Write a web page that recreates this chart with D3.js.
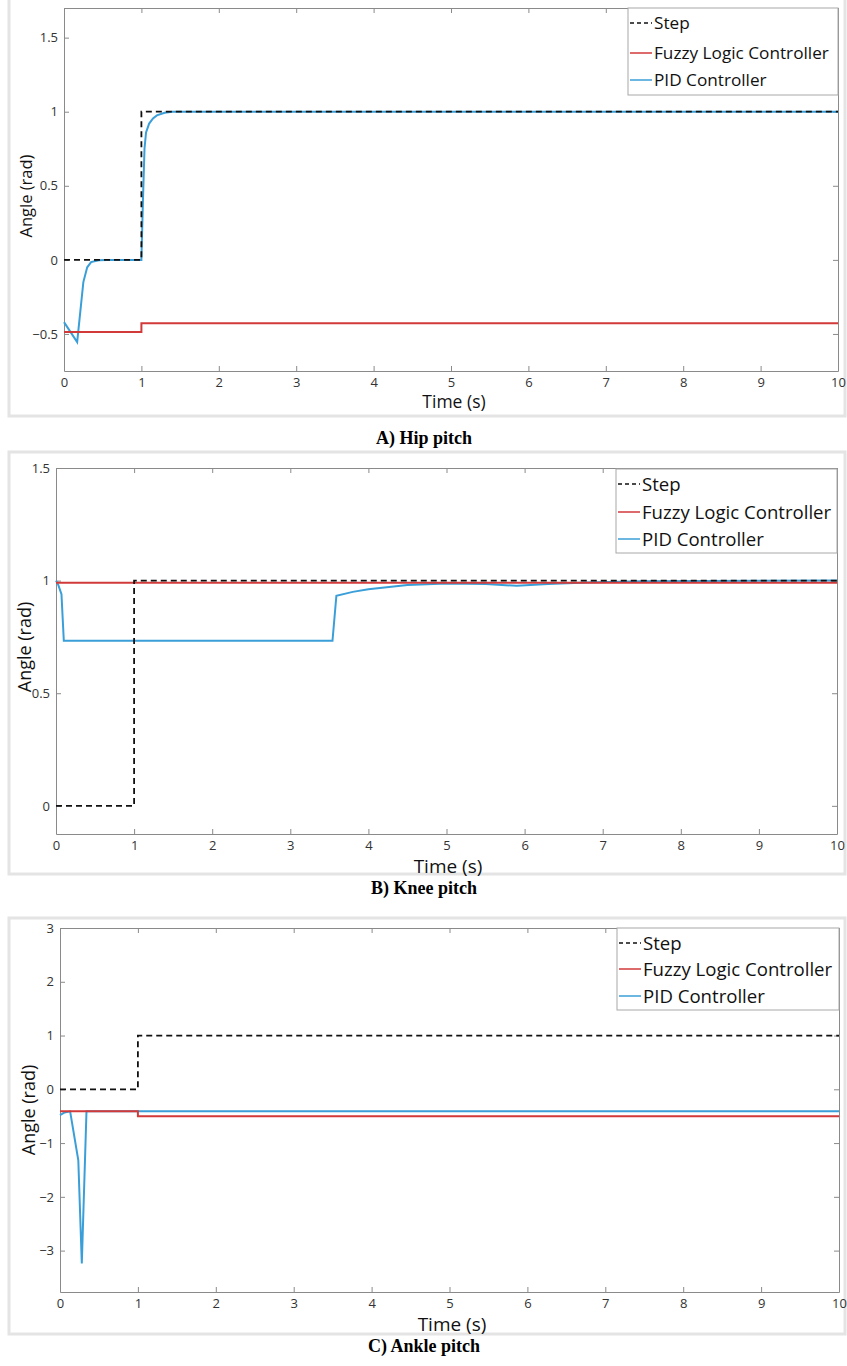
<!DOCTYPE html>
<html>
<head>
  <meta charset="UTF-8">
  <script src="https://d3js.org/d3.v7.min.js"></script>
  <title>Step response of hip, knee and ankle pitch</title>
  <style>
    body { margin: 0; background: #fff; }
    svg { display: block; }
    .tick-label { font-family: 'Open Sans', sans-serif; fill: #333; }
    .axis-title { font-family: 'Open Sans', sans-serif; fill: #111; }
    .caption { font-family: 'Liberation Serif', 'Times New Roman', serif; font-weight: bold; fill: #000; }
  </style>
</head>
<body>
<svg width="847" height="1366"></svg>
<script>
  // ---- data ----
  const timeTicks = [0, 1, 2, 3, 4, 5, 6, 7, 8, 9, 10];
  const seriesNames = ["Step", "Fuzzy Logic Controller", "PID Controller"];

  // A) hip pitch
  const hipTicks = [-0.5, 0, 0.5, 1, 1.5];
  const hipStep = [[0, 0], [1, 0], [1, 1], [10, 1]];
  const hipFuzzy = [[0, -0.487], [1, -0.487], [1, -0.428], [10, -0.428]];
  const hipPid = [[0, -0.42], [0.17, -0.555], [0.25, -0.15], [0.3, -0.05], [0.35, -0.015],
                  [0.45, -0.002], [0.55, 0], [1, 0], [1.02, 0.4], [1.04, 0.75], [1.06, 0.86],
                  [1.1, 0.92], [1.15, 0.955], [1.2, 0.975], [1.3, 0.993], [1.4, 1], [10, 1]];

  // B) knee pitch
  const kneeTicks = [0, 0.5, 1, 1.5];
  const kneeStep = [[0, 0], [1, 0], [1, 1], [10, 1]];
  const kneeFuzzy = [[0, 0.99], [10, 0.99]];
  const kneePid = [[0, 1.0], [0.03, 0.98], [0.07, 0.94], [0.1, 0.733], [3.54, 0.733],
                   [3.59, 0.933], [3.8, 0.95], [4.0, 0.962], [4.5, 0.98], [5.0, 0.987],
                   [5.5, 0.985], [5.9, 0.977], [6.3, 0.985], [6.8, 0.992], [7.5, 0.997], [10, 1.0]];

  // C) ankle pitch
  const ankleTicks = [-3, -2, -1, 0, 1, 2, 3];
  const ankleStep = [[0, 0], [1, 0], [1, 1], [10, 1]];
  const ankleFuzzy = [[0, -0.41], [1, -0.41], [1, -0.5], [10, -0.5]];
  const anklePid = [[0, -0.48], [0.06, -0.43], [0.13, -0.41], [0.235, -1.32], [0.28, -3.24],
                    [0.34, -0.41], [10, -0.41]];

  // ---- layout of each panel ----
  const panels = [
    { step: hipStep, fuzzy: hipFuzzy, pid: hipPid, yTicks: hipTicks, yDomain: [-0.75, 1.7],
      frame: [9, -2, 845, 416], plot: [64, 8, 838, 371],
      legend: { box: [628, 8, 838, 95], rows: [22, 52, 79], fs: 17.2 },
      yLabel: [25, 196, 16.5], xLabel: [454, 401, 17.5], tickFs: 13,
      caption: ["A) Hip pitch", 438] },
    { step: kneeStep, fuzzy: kneeFuzzy, pid: kneePid, yTicks: kneeTicks, yDomain: [-0.125, 1.5],
      frame: [9, 452, 845, 874], plot: [56, 468, 837, 834],
      legend: { box: [616, 469, 837, 553], rows: [483, 511, 538], fs: 18.6 },
      yLabel: [24, 647, 18], xLabel: [448, 866, 19], tickFs: 13,
      caption: ["B) Knee pitch", 888] },
    { step: ankleStep, fuzzy: ankleFuzzy, pid: anklePid, yTicks: ankleTicks, yDomain: [-3.77, 3],
      frame: [9, 918, 845, 1334], plot: [60, 928, 839, 1292],
      legend: { box: [617, 928, 839, 1010], rows: [942, 968, 995], fs: 18.6 },
      yLabel: [28, 1110, 18], xLabel: [452, 1324, 19], tickFs: 13,
      caption: ["C) Ankle pitch", 1346] }
  ];

  const colors = { step: "#111", fuzzy: "#d23a3a", pid: "#3a9fd8" };
  const axisColor = "#8a8a8a";
  const svg = d3.select("svg");

  panels.forEach(p => {
    const [l, t, r, b] = p.plot;
    const g = svg.append("g");

    // light frame of the pasted figure
    g.append("rect")
      .attr("x", p.frame[0]).attr("y", p.frame[1])
      .attr("width", p.frame[2] - p.frame[0]).attr("height", p.frame[3] - p.frame[1])
      .attr("fill", "none").attr("stroke", "#e4e4e4").attr("stroke-width", 3);

    const x = d3.scaleLinear().domain([0, 10]).range([l, r]);
    const y = d3.scaleLinear().domain(p.yDomain).range([b, t]);

    // axes, MATLAB style: box with inward ticks
    const axB = d3.axisBottom(x).tickValues(timeTicks).tickSizeInner(-5).tickSizeOuter(0).tickPadding(7);
    const axT = d3.axisTop(x).tickValues(timeTicks).tickSizeInner(-5).tickSizeOuter(0).tickFormat("");
    const axL = d3.axisLeft(y).tickValues(p.yTicks).tickSizeInner(-5).tickSizeOuter(0).tickPadding(6)
      .tickFormat(d3.format("~g"));
    const axR = d3.axisRight(y).tickValues(p.yTicks).tickSizeInner(-5).tickSizeOuter(0).tickFormat("");

    [[axB, `translate(0,${b})`], [axT, `translate(0,${t})`], [axL, `translate(${l},0)`], [axR, `translate(${r},0)`]]
      .forEach(([ax, tr]) => {
        const a = g.append("g").attr("transform", tr).call(ax);
        a.select(".domain").attr("stroke", axisColor);
        a.selectAll(".tick line").attr("stroke", axisColor);
        a.selectAll(".tick text").attr("class", "tick-label").style("font-size", p.tickFs + "px");
      });

    const line = d3.line().x(d => x(d[0])).y(d => y(d[1]));

    g.append("path").datum(p.pid).attr("d", line)
      .attr("fill", "none").attr("stroke", colors.pid).attr("stroke-width", 2);
    g.append("path").datum(p.fuzzy).attr("d", line)
      .attr("fill", "none").attr("stroke", colors.fuzzy).attr("stroke-width", 2);
    g.append("path").datum(p.step).attr("d", line)
      .attr("fill", "none").attr("stroke", colors.step).attr("stroke-width", 1.8)
      .attr("stroke-dasharray", "6,4");

    // legend
    const lg = p.legend;
    g.append("rect")
      .attr("x", lg.box[0]).attr("y", lg.box[1])
      .attr("width", lg.box[2] - lg.box[0]).attr("height", lg.box[3] - lg.box[1])
      .attr("fill", "#fff").attr("stroke", "#a8a8a8").attr("stroke-width", 1);
    const keyStyles = [
      { c: colors.step, dash: "4,3" },
      { c: colors.fuzzy, dash: null },
      { c: colors.pid, dash: null }
    ];
    seriesNames.forEach((name, i) => {
      const yy = lg.rows[i];
      g.append("line")
        .attr("x1", lg.box[0] + 2).attr("x2", lg.box[0] + 24)
        .attr("y1", yy + 1).attr("y2", yy + 1)
        .attr("stroke", keyStyles[i].c).attr("stroke-width", 1.5)
        .attr("stroke-dasharray", keyStyles[i].dash);
      g.append("text")
        .attr("class", "axis-title")
        .attr("x", lg.box[0] + 26).attr("y", yy)
        .attr("dominant-baseline", "central")
        .style("font-size", lg.fs + "px")
        .text(name);
    });

    // axis titles
    g.append("text")
      .attr("class", "axis-title")
      .attr("transform", `translate(${p.yLabel[0]},${p.yLabel[1]}) rotate(-90)`)
      .attr("text-anchor", "middle").attr("dominant-baseline", "central")
      .style("font-size", p.yLabel[2] + "px")
      .text("Angle (rad)");
    g.append("text")
      .attr("class", "axis-title")
      .attr("x", p.xLabel[0]).attr("y", p.xLabel[1])
      .attr("text-anchor", "middle").attr("dominant-baseline", "central")
      .style("font-size", p.xLabel[2] + "px")
      .text("Time (s)");

    // caption under the figure
    svg.append("text")
      .attr("class", "caption")
      .attr("x", 424).attr("y", p.caption[1])
      .attr("text-anchor", "middle").attr("dominant-baseline", "central")
      .style("font-size", "18px")
      .text(p.caption[0]);
  });
</script>
</body>
</html>
